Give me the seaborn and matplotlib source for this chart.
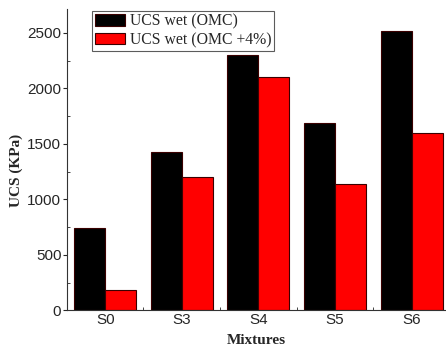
import pandas as pd
import matplotlib
matplotlib.use('Agg')
import matplotlib.pyplot as plt
import seaborn as sns
from matplotlib.ticker import MultipleLocator, FixedLocator

mixtures = ['S0', 'S3', 'S4', 'S5', 'S6']
ucs_omc = [740, 1430, 2300, 1685, 2520]
ucs_omc4 = [185, 1205, 2100, 1137, 1600]
series = ['UCS wet (OMC)', 'UCS wet (OMC +4%)']

df = pd.DataFrame({
    'Mixtures': mixtures * 2,
    'UCS': ucs_omc + ucs_omc4,
    'Serie': [series[0]] * 5 + [series[1]] * 5,
})

sns.set_style('ticks')
plt.rcParams['font.family'] = ['Liberation Sans', 'DejaVu Sans']

fig = plt.figure(figsize=(4.46, 3.48), dpi=100)
ax = fig.add_axes([0.150, 0.108, 0.850, 0.866])

sns.barplot(data=df, x='Mixtures', y='UCS', hue='Serie', palette=['#000000', '#ff0000'],
            saturation=1, width=0.81, edgecolor='#3a0000', linewidth=0.8, ax=ax)

ax.set_xlim(-0.5, 4.45)
ax.set_ylim(0, 2715)
ax.yaxis.set_major_locator(MultipleLocator(500))
ax.yaxis.set_minor_locator(MultipleLocator(250))
ax.xaxis.set_minor_locator(FixedLocator([0.5, 1.5, 2.5, 3.5]))
ax.tick_params(axis='y', which='major', direction='out', length=3, width=0.8, labelsize=11, pad=1)
ax.tick_params(axis='y', which='minor', direction='in', length=2, width=0.6)
ax.tick_params(axis='x', which='major', length=0, labelsize=11, pad=2)
ax.tick_params(axis='x', which='minor', direction='in', length=2, width=0.6)

for s in ['top', 'right']:
    ax.spines[s].set_visible(False)
for s in ['left', 'bottom']:
    ax.spines[s].set_linewidth(0.8)
    ax.spines[s].set_color('#333333')

ax.set_xlabel('Mixtures', fontsize=11, fontweight='bold', family='Liberation Serif')
ax.set_ylabel('UCS (KPa)', fontsize=11, fontweight='bold', family='Liberation Serif')
ax.xaxis.set_label_coords(0.5, -0.079)
ax.yaxis.set_label_coords(-0.117, 0.466)

leg = ax.legend(loc='upper left', bbox_to_anchor=(0.066, 0.995), frameon=True, fancybox=False,
                prop={'family': 'Liberation Serif', 'size': 11.3}, handlelength=1.9,
                handleheight=0.75, handletextpad=0.3, borderpad=0.2, labelspacing=0.15,
                borderaxespad=0)
leg.get_frame().set_edgecolor('#333333')
leg.get_frame().set_linewidth(0.8)

fig.savefig('out.png', dpi=100)
